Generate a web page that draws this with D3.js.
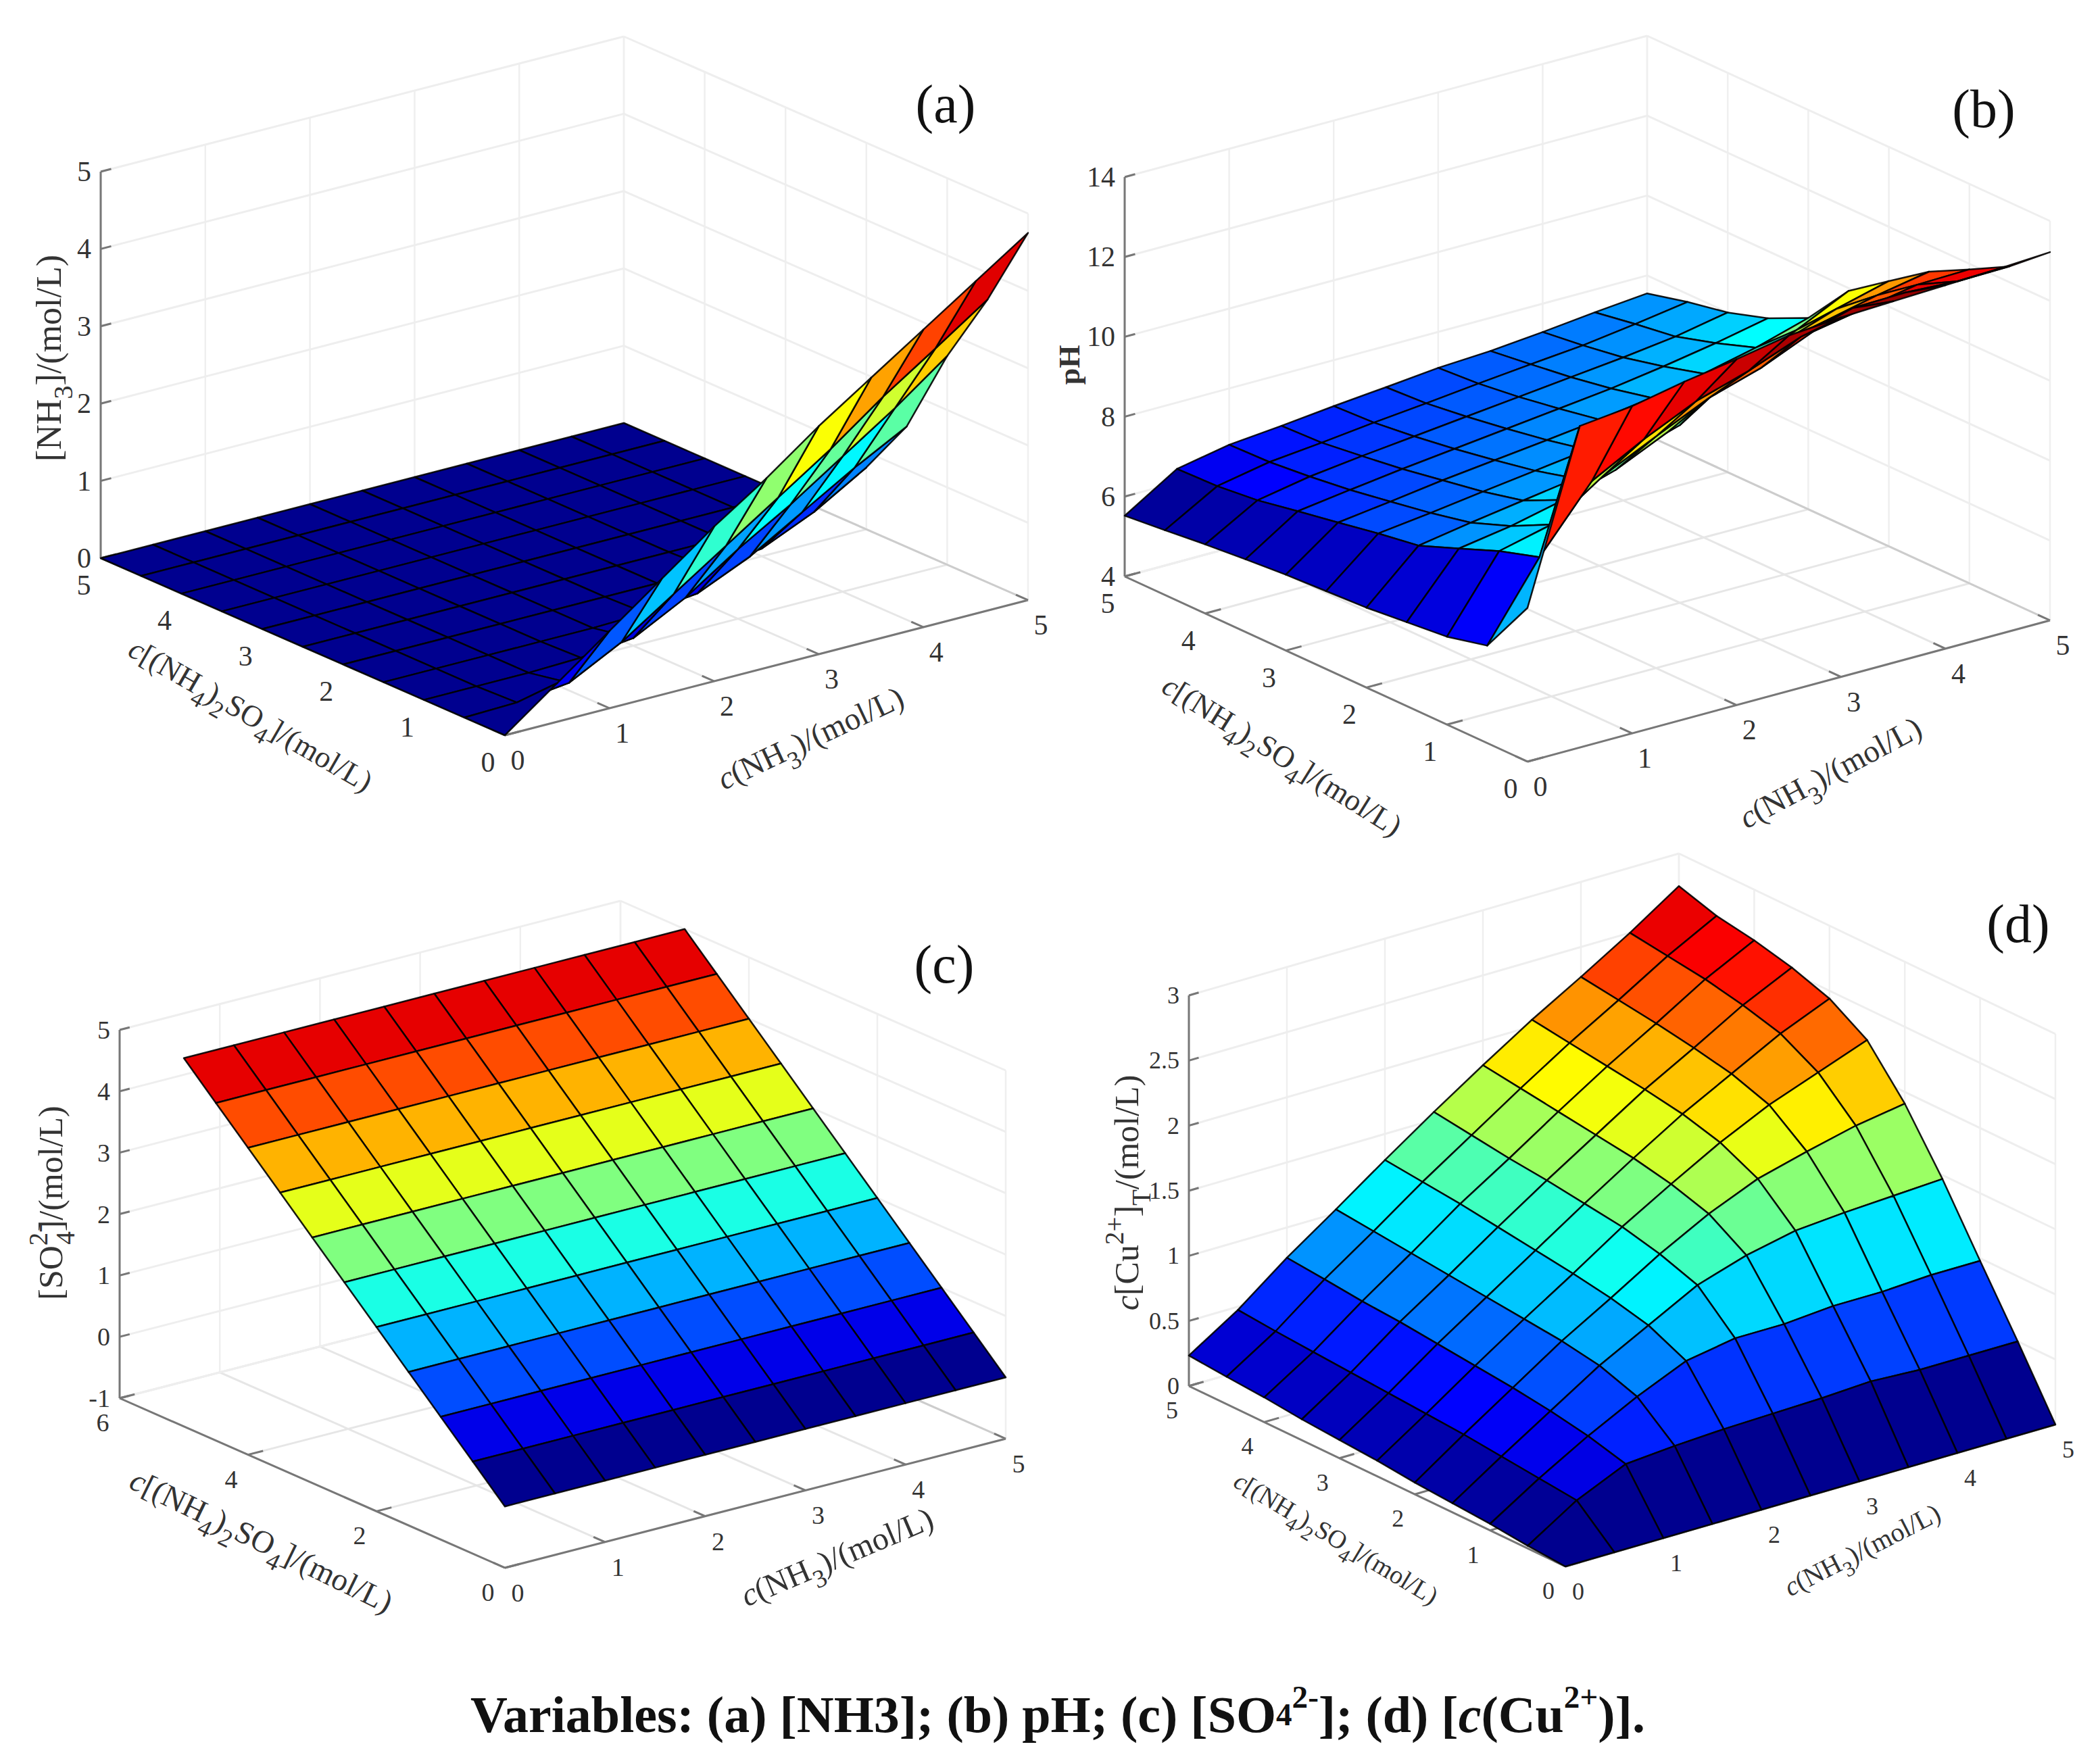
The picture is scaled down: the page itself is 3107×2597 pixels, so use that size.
<!DOCTYPE html>
<html>
<head>
<meta charset="utf-8">
<script src="https://cdn.jsdelivr.net/npm/d3@7"></script>
<style>
  html, body { margin: 0; background: #fff; }
  text { font-family: "Liberation Serif", serif; fill: #333; }
</style>
</head>
<body>
<div id="chart"></div>
<script>
// grid nodes shared by every surface
const xNodes = [0, 0.5, 1, 1.5, 2, 2.5, 3, 3.5, 4, 4.5, 5];
const yNodes = [0, 0.5, 1, 1.5, 2, 2.5, 3, 3.5, 4, 4.5, 5];

// surface heights, one row per yNodes value, one column per xNodes value
const zNH3 = [
  [0, 0.5, 1, 1.5, 2, 2.45, 2.95, 3.4, 3.85, 4.3, 4.75],
  [0, 0.02, 0.1, 0.45, 0.9, 1.35, 1.8, 2.25, 2.75, 3.2, 3.66],
  [0, 0, 0, 0.02, 0.1, 0.45, 0.9, 1.3, 1.75, 2.2, 2.7],
  [0, 0, 0, 0, 0, 0.02, 0.1, 0.4, 0.8, 1.2, 1.56],
  [0, 0, 0, 0, 0, 0, 0, 0.02, 0.1, 0.4, 0.8],
  [0, 0, 0, 0, 0, 0, 0, 0, 0, 0.03, 0.2],
  [0, 0, 0, 0, 0, 0, 0, 0, 0, 0, 0],
  [0, 0, 0, 0, 0, 0, 0, 0, 0, 0, 0],
  [0, 0, 0, 0, 0, 0, 0, 0, 0, 0, 0],
  [0, 0, 0, 0, 0, 0, 0, 0, 0, 0, 0],
  [0, 0, 0, 0, 0, 0, 0, 0, 0, 0, 0]
];
const zPH = [
  [7.85, 12.05, 12.19, 12.45, 12.66, 12.9, 13, 13.05, 13.1, 13.15, 13.22],
  [6.44, 8.3, 9.85, 10.55, 11.15, 11.55, 12.05, 12.42, 12.45, 12.38, 12.4],
  [6.2, 7.99, 8.3, 9.18, 9.8, 10.4, 10.8, 11.36, 11.6, 11.83, 11.86],
  [6.1, 7.59, 7.8, 8.1, 8.5, 9.1, 9.9, 10.4, 10.8, 11.1, 11.34],
  [6, 7.2, 7.42, 7.62, 7.82, 8.05, 8.45, 9.3, 9.85, 10.3, 10.64],
  [5.95, 7.04, 7.2, 7.38, 7.55, 7.72, 7.92, 8.2, 8.7, 9.3, 9.93],
  [5.9, 6.85, 7.02, 7.2, 7.35, 7.5, 7.66, 7.85, 8.1, 8.4, 8.79],
  [5.82, 6.67, 6.85, 7.02, 7.17, 7.32, 7.47, 7.62, 7.82, 8.05, 8.32],
  [5.73, 6.48, 6.72, 6.88, 7.02, 7.16, 7.3, 7.44, 7.58, 7.75, 8],
  [5.62, 6.37, 6.62, 6.75, 6.9, 7.03, 7.17, 7.3, 7.42, 7.6, 7.8],
  [5.52, 6.34, 6.59, 6.71, 6.85, 6.97, 7.1, 7.17, 7.29, 7.43, 7.55]
];
const zSO4 = [
  [0, 0, 0, 0, 0, 0, 0, 0, 0, 0, 0],
  [0.5, 0.5, 0.5, 0.5, 0.5, 0.5, 0.5, 0.5, 0.5, 0.5, 0.5],
  [1, 1, 1, 1, 1, 1, 1, 1, 1, 1, 1],
  [1.5, 1.5, 1.5, 1.5, 1.5, 1.5, 1.5, 1.5, 1.5, 1.5, 1.5],
  [2, 2, 2, 2, 2, 2, 2, 2, 2, 2, 2],
  [2.5, 2.5, 2.5, 2.5, 2.5, 2.5, 2.5, 2.5, 2.5, 2.5, 2.5],
  [3, 3, 3, 3, 3, 3, 3, 3, 3, 3, 3],
  [3.5, 3.5, 3.5, 3.5, 3.5, 3.5, 3.5, 3.5, 3.5, 3.5, 3.5],
  [4, 4, 4, 4, 4, 4, 4, 4, 4, 4, 4],
  [4.5, 4.5, 4.5, 4.5, 4.5, 4.5, 4.5, 4.5, 4.5, 4.5, 4.5],
  [5, 5, 5, 5, 5, 5, 5, 5, 5, 5, 5]
];
const zCu = [
  [0, 0, 0, 0, 0, 0, 0, 0, 0, 0, 0],
  [0.02, 0.26, 0.43, 0.46, 0.48, 0.49, 0.5, 0.52, 0.5, 0.5, 0.5],
  [0.05, 0.29, 0.507, 0.7, 0.865, 0.93, 0.93, 0.96, 0.96, 0.98, 0.98],
  [0.07, 0.32, 0.56, 0.8, 1, 1.2, 1.32, 1.4, 1.43, 1.45, 1.47],
  [0.09, 0.35, 0.6, 0.85, 1.07, 1.3, 1.5, 1.66, 1.76, 1.85, 1.91],
  [0.12, 0.37, 0.63, 0.88, 1.12, 1.37, 1.59, 1.8, 1.98, 2.12, 2.26],
  [0.14, 0.39, 0.66, 0.91, 1.16, 1.41, 1.65, 1.88, 2.08, 2.28, 2.44],
  [0.16, 0.41, 0.69, 0.94, 1.2, 1.45, 1.69, 1.93, 2.14, 2.36, 2.54],
  [0.19, 0.43, 0.71, 0.97, 1.24, 1.48, 1.73, 1.97, 2.19, 2.42, 2.61],
  [0.21, 0.45, 0.74, 1, 1.27, 1.52, 1.77, 2.01, 2.23, 2.46, 2.66],
  [0.234, 0.476, 0.767, 1.03, 1.3, 1.56, 1.81, 2.05, 2.27, 2.5, 2.75]
];

// tick labels
const xTicks = [0, 1, 2, 3, 4, 5];
const yTicks = [0, 1, 2, 3, 4, 5];
const yTicksC = [0, 2, 4, 6];
const zTicksA = [0, 1, 2, 3, 4, 5];
const zTicksB = [4, 6, 8, 10, 12, 14];
const zTicksC = [-1, 0, 1, 2, 3, 4, 5];
const zTicksD = [0, 0.5, 1, 1.5, 2, 2.5, 3];

// label pieces: s = subscript, u = superscript, k = subscript stacked under the superscript, i = italic, b = bold
const labelY = [['c', 'i'], ['[(NH'], ['4', 's'], [')'], ['2', 's'], ['SO'], ['4', 's'], [']/(mol/L)']];
const labelX = [['c', 'i'], ['(NH'], ['3', 's'], [')/(mol/L)']];
const labelZA = [['[NH'], ['3', 's'], [']/(mol/L)']];
const labelZB = [['pH', 'b']];
const labelZC = [['[SO'], ['2-', 'u'], ['4', 'k'], [']/(mol/L)']];
const labelZD = [['c', 'i'], ['[Cu'], ['2+', 'u'], [']'], ['T', 's'], ['/(mol/L)']];

const panels = [
  { tag: '(a)', tagAt: [1399, 154], z: zNH3, zTicks: zTicksA, yTicks, yMax: 5, clim: [0, 4.75], font: 42, yDrop: 40,
    origin: [747, 1088], xEnd: [1521, 888], yEnd: [149, 826], zSpan: 572,
    labels: { y: labelY, yAt: [371, 1058, 30], ySize: 45, x: labelX, xAt: [1199, 1092, -25], xSize: 47, z: labelZA, zAt: [72, 530], zSize: 52 } },
  { tag: '(b)', tagAt: [2935, 161], z: zPH, zTicks: zTicksB, yTicks, yMax: 5, clim: [5.52, 13.22], font: 42, yDrop: 40,
    origin: [2260, 1127], xEnd: [3033, 918], yEnd: [1664, 853], zSpan: 591,
    labels: { y: labelY, yAt: [1897, 1118, 32], ySize: 45, x: labelX, xAt: [2708, 1143, -28], xSize: 47, z: labelZB, zAt: [1582, 540], zSize: 44 } },
  { tag: '(c)', tagAt: [1397, 1427], z: zSO4, zTicks: zTicksC, yTicks: yTicksC, yMax: 6, clim: [0, 5], font: 38, yDrop: 36,
    origin: [747, 2320], xEnd: [1488, 2129], yEnd: [177, 2069], zSpan: 545,
    labels: { y: labelY, yAt: [387, 2280, 26], ySize: 47, x: labelX, xAt: [1238, 2303, -23], xSize: 48, z: labelZC, zAt: [75, 1780], zSize: 50 } },
  { tag: '(d)', tagAt: [2986, 1367], z: zCu, zTicks: zTicksD, yTicks, yMax: 5, clim: [0, 2.75], font: 36, yDrop: 36,
    origin: [2316, 2318], xEnd: [3041, 2108], yEnd: [1759, 2051], zSpan: 578,
    labels: { y: labelY, yAt: [1977, 2276, 31], ySize: 38, x: labelX, xAt: [2755, 2293, -27], xSize: 40, z: labelZD, zAt: [1667, 1765], zSize: 50 } }
];

const width = 3107;
const height = 2597;

const svg = d3.select('#chart').append('svg')
  .attr('width', width)
  .attr('height', height)
  .style('display', 'block')
  .style('background', '#fff');

// Matlab's jet
const jet = d3.scaleLinear()
  .domain([0, 0.125, 0.375, 0.625, 0.875, 1])
  .range(['#00008f', '#0000ff', '#00ffff', '#ffff00', '#ff0000', '#800000'])
  .clamp(true);

const pathFor = d3.line();

function drawPanel(p) {
  const g = svg.append('g');
  const zLo = p.zTicks[0];
  const zHi = p.zTicks[p.zTicks.length - 1];
  const sx = d3.scaleLinear().domain([0, 5]).range([0, 1]);
  const sy = d3.scaleLinear().domain([0, p.yMax]).range([0, 1]);
  const sz = d3.scaleLinear().domain([zLo, zHi]).range([0, p.zSpan]);
  const colour = d3.scaleLinear().domain(p.clim).range([0, 1]);

  const project = (x, y, z) => [
    p.origin[0] + (p.xEnd[0] - p.origin[0]) * sx(x) + (p.yEnd[0] - p.origin[0]) * sy(y),
    p.origin[1] + (p.xEnd[1] - p.origin[1]) * sx(x) + (p.yEnd[1] - p.origin[1]) * sy(y) - sz(z)
  ];

  const seg = (a, b, stroke, w) => g.append('path')
    .attr('d', pathFor([a, b]))
    .attr('fill', 'none')
    .attr('stroke', stroke)
    .attr('stroke-width', w);

  // walls and floor grid
  xTicks.forEach(x => {
    seg(project(x, 0, zLo), project(x, p.yMax, zLo), '#e6e6e6', 3);
    seg(project(x, p.yMax, zLo), project(x, p.yMax, zHi), '#efefef', 2.5);
  });
  p.yTicks.forEach(y => {
    seg(project(0, y, zLo), project(5, y, zLo), '#e6e6e6', 3);
    seg(project(5, y, zLo), project(5, y, zHi), '#efefef', 2.5);
  });
  p.zTicks.forEach(z => {
    seg(project(0, p.yMax, z), project(5, p.yMax, z), '#eeeeee', 3);
    seg(project(5, p.yMax, z), project(5, 0, z), '#eeeeee', 3);
  });

  // axes
  seg(project(0, p.yMax, zLo), project(0, p.yMax, zHi), '#777', 3);
  seg(project(0, p.yMax, zLo), project(0, 0, zLo), '#777', 3);
  seg(project(0, 0, zLo), project(5, 0, zLo), '#777', 3);
  seg(project(5, p.yMax, zLo), project(5, 0, zLo), '#ccc', 3);

  // ticks and tick labels
  const f = p.font;
  xTicks.forEach(x => {
    const a = project(x, 0, zLo);
    seg(a, project(x, p.yMax * 0.03, zLo), '#777', 3);
    g.append('text').attr('x', a[0] + 19).attr('y', a[1] + 37)
      .attr('font-size', f).attr('text-anchor', 'middle').attr('dominant-baseline', 'central').text(x);
  });
  p.yTicks.forEach(y => {
    const a = project(0, y, zLo);
    seg(a, project(0.15, y, zLo), '#777', 3);
    g.append('text').attr('x', a[0] - 25).attr('y', a[1] + p.yDrop)
      .attr('font-size', f).attr('text-anchor', 'middle').attr('dominant-baseline', 'central').text(y);
  });
  p.zTicks.forEach(z => {
    const a = project(0, p.yMax, z);
    seg(a, project(0.1, p.yMax, z), '#777', 3);
    g.append('text').attr('x', a[0] - 14).attr('y', a[1])
      .attr('font-size', f).attr('text-anchor', 'end').attr('dominant-baseline', 'central').text(z);
  });

  // surface cells, far ones first, colour taken from the low corner as surf does
  const cells = [];
  for (let j = 0; j < yNodes.length - 1; j++) {
    for (let i = 0; i < xNodes.length - 1; i++) {
      cells.push({ i, j, depth: project(xNodes[i] + 0.25, yNodes[j] + 0.25, zLo)[1] });
    }
  }
  cells.sort((a, b) => a.depth - b.depth);

  g.append('g').selectAll('path')
    .data(cells)
    .join('path')
    .attr('d', ({ i, j }) => pathFor([
      project(xNodes[i], yNodes[j], p.z[j][i]),
      project(xNodes[i + 1], yNodes[j], p.z[j][i + 1]),
      project(xNodes[i + 1], yNodes[j + 1], p.z[j + 1][i + 1]),
      project(xNodes[i], yNodes[j + 1], p.z[j + 1][i])
    ]) + 'Z')
    .attr('fill', ({ i, j }) => jet(colour(p.z[j][i])))
    .attr('stroke', '#000')
    .attr('stroke-opacity', 0.9)
    .attr('stroke-width', 2.5)
    .attr('stroke-linejoin', 'round');

  // axis titles
  const l = p.labels;
  drawLabel(g, l.y, l.yAt[0], l.yAt[1], l.yAt[2], l.ySize);
  drawLabel(g, l.x, l.xAt[0], l.xAt[1], l.xAt[2], l.xSize);
  drawLabel(g, l.z, l.zAt[0], l.zAt[1], -90, l.zSize);

  g.append('text').attr('x', p.tagAt[0]).attr('y', p.tagAt[1])
    .attr('font-size', 80).attr('text-anchor', 'middle').attr('dominant-baseline', 'central')
    .style('fill', '#111').text(p.tag);
}

function drawLabel(g, parts, x, y, angle, size) {
  const t = g.append('text')
    .attr('transform', `translate(${x},${y}) rotate(${angle})`)
    .attr('font-size', size)
    .attr('text-anchor', 'middle')
    .attr('dominant-baseline', 'central');
  parts.forEach(([str, kind]) => {
    const s = t.append('tspan').text(str);
    if (kind === 'i') s.attr('font-style', 'italic');
    if (kind === 'b') s.attr('font-weight', 'bold');
    if (kind === 's' || kind === 'k') s.attr('font-size', '0.78em').attr('baseline-shift', `${-0.42 * size}px`);
    if (kind === 'u') s.attr('font-size', '0.78em').attr('baseline-shift', `${0.38 * size}px`);
    if (kind === 'k') s.attr('dx', '-0.8em');
  });
}

panels.forEach(drawPanel);

// caption
const capParts = [
  ['Variables: (a) [NH3]; (b) pH; (c) [SO'], ['4', 'low'], ['2-', 'up'], ['];  (d) ['],
  ['c', 'it'], ['(Cu'], ['2+', 'up'], [')].']
];
const cap = svg.append('text')
  .attr('x', 1565).attr('y', 2537)
  .attr('font-size', 76).attr('font-weight', 'bold')
  .attr('text-anchor', 'middle').attr('dominant-baseline', 'central')
  .style('fill', '#111');
capParts.forEach(([str, kind]) => {
  const s = cap.append('tspan').text(str);
  if (kind === 'it') s.attr('font-style', 'italic');
  if (kind === 'low') s.attr('font-size', '0.62em');
  if (kind === 'up') s.attr('font-size', '0.62em').attr('baseline-shift', '26px');
});
</script>
</body>
</html>
